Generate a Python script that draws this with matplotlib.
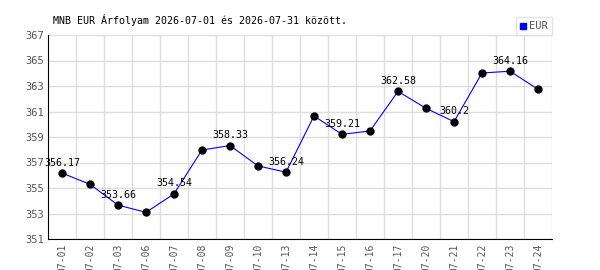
import matplotlib.pyplot as plt
from matplotlib.lines import Line2D

# EUR rates
dates = ['07-01', '07-02', '07-03', '07-06', '07-07', '07-08', '07-09', '07-10', '07-13',
         '07-14', '07-15', '07-16', '07-17', '07-20', '07-21', '07-22', '07-23', '07-24']
rates = [356.17, 355.29, 353.66, 353.09, 354.54, 357.98, 358.33, 356.73, 356.24,
         360.65, 359.21, 359.47, 362.58, 361.25, 360.2, 364.02, 364.16, 362.74]
labels = ['356.17', None, '353.66', None, '354.54', None, '358.33', None, '356.24',
          None, '359.21', None, '362.58', None, '360.2', None, '364.16', None]
yticks = list(range(351, 368, 2))

plt.rcParams['font.family'] = 'DejaVu Sans Mono'

fig = plt.figure(figsize=(6, 2.7), dpi=100)
ax = fig.add_axes([48 / 600, 1 - 239 / 270, 504 / 600, 204 / 270])

x = list(range(len(dates)))
ax.plot(x, rates, color='blue', linewidth=0.8, marker='o', markersize=5,
        markerfacecolor='black', markeredgecolor='black', zorder=3)

for xi, val, lab in zip(x, rates, labels):
    if lab:
        ax.annotate(lab, (xi, val), xytext=(0, 4), textcoords='offset points',
                    ha='center', va='bottom', fontsize=7.2, color='black', zorder=4)

ax.set_xlim(-0.5, len(dates) - 0.5)
ax.set_ylim(351, 367)
ax.set_yticks(yticks)
ax.set_xticks(x)
ax.set_xticklabels(dates, rotation=90, fontsize=7, color='#555555')
ax.tick_params(axis='y', labelsize=7.5, labelcolor='#555555', length=0, pad=3)
ax.tick_params(axis='x', length=0, pad=3)

# grid lines sit between the categories
for b in range(len(dates)):
    ax.axvline(b + 0.5, color='#dddddd', linewidth=1, zorder=0)
for t in yticks:
    ax.axhline(t, color='#dddddd', linewidth=1, zorder=0)

ax.spines['top'].set_visible(False)
ax.spines['right'].set_visible(False)
ax.spines['left'].set_color('black')
ax.spines['bottom'].set_color('black')

fig.text(53 / 600, 1 - 20 / 270, 'MNB EUR Árfolyam 2026-07-01 és 2026-07-31 között.',
         fontsize=7.2, va='center', ha='left')

handle = Line2D([], [], marker='s', color='blue', linestyle='none', markersize=5)
leg = fig.legend([handle], ['EUR'], loc='upper right', bbox_to_anchor=(552 / 600, 1 - 17 / 270),
                 fontsize=7.5, frameon=True, fancybox=False, handlelength=0.6,
                 handletextpad=0.3, borderpad=0.4, borderaxespad=0)
leg.get_frame().set_edgecolor('#dddddd')
leg.get_frame().set_linewidth(1)
for t in leg.get_texts():
    t.set_color('#555555')

fig.savefig('out.png', dpi=100)
